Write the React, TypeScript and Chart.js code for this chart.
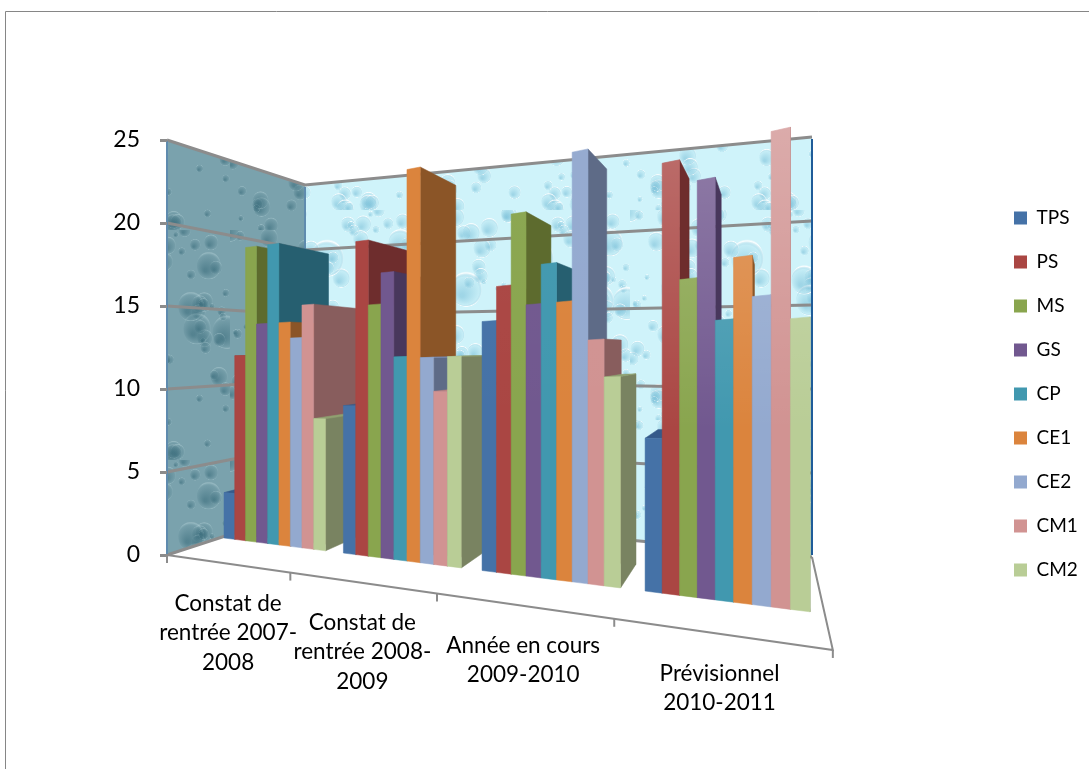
import React, { useEffect, useRef } from "react";
import { Chart, registerables } from "chart.js";

Chart.register(...registerables);

const categories = [
  ["Constat de", "rentrée 2007-", "2008"],
  ["Constat de", "rentrée 2008-", "2009"],
  ["Année en cours", "2009-2010"],
  ["Prévisionnel", "2010-2011"],
];
const TPS = [3, 8.8, 13.3, 7.2];
const PS = [12, 18.5, 15.1, 20];
const MS = [19, 14.7, 18.8, 14.5];
const GS = [14, 16.5, 14, 18.9];
const CP = [19, 11.6, 16, 12.5];
const CE1 = [14, 22.2, 14, 15.2];
const CE2 = [13, 11.5, 21.4, 13.4];
const CM1 = [15, 9.6, 12, 20.4];
const CM2 = [8, 11.5, 10.15, 12.3];

const seriesNames = ["TPS", "PS", "MS", "GS", "CP", "CE1", "CE2", "CM1", "CM2"];
const seriesValues = [TPS, PS, MS, GS, CP, CE1, CE2, CM1, CM2];
const frontColors = ["#4572A7", "#AA4643", "#89A54E", "#71588F", "#4198AF", "#DB843D", "#93A9CF", "#D19392", "#B9CD96"];
const sideColors = ["#2A4970", "#6E2D2D", "#5D6B2E", "#48375C", "#265F70", "#8B5527", "#5E6B87", "#885D5D", "#798361"];
const topColors = ["#355A8A", "#8C3A38", "#75903F", "#5E4A78", "#337F94", "#E0A070", "#8095BC", "#B88080", "#8FA070"];
const groupSheen = [0, 0, 0.03, 0.22];

const FONT = "Lato, 'Open Sans', sans-serif";
const GRID = "#8C8C8C";

// Perspective of the plane the bars stand on
const VP = { x: 775, y: 350 };
const DEPTH = 0.1;
const planeX = (u: number) => (380 * u + 216.3) / (1 - 0.277 * u);
const planeBase = (x: number) => 538 + 0.126 * (x - 224);
const planeUnit = (u: number) => 15.05 / (1 - 0.379 * u);
const project = (u: number, val: number, d = 0) => {
  const x = planeX(u);
  const y = planeBase(x) - val * planeUnit(u);
  return { x: x + (VP.x - x) * d, y: y + (VP.y - y) * d };
};
const frontX = (u: number) => (401 * u + 167) / (1 - 0.318 * u);
const frontY = (x: number) => 555 + 0.1426 * (x - 167);

function quad(ctx: CanvasRenderingContext2D, pts: { x: number; y: number }[], fill: any) {
  ctx.beginPath();
  pts.forEach((p, i) => (i ? ctx.lineTo(p.x, p.y) : ctx.moveTo(p.x, p.y)));
  ctx.closePath();
  ctx.fillStyle = fill;
  ctx.fill();
  if (typeof fill === "string") {
    ctx.strokeStyle = fill;
    ctx.lineWidth = 0.5;
    ctx.stroke();
  }
}

// Decorative wall texture: water droplets on a fixed, hand-tuned scatter.
function dropletTexture(base: string, dark: string, light: string, size: number) {
  const c = document.createElement("canvas");
  c.width = size;
  c.height = size;
  const g = c.getContext("2d") as CanvasRenderingContext2D;
  g.fillStyle = base;
  g.fillRect(0, 0, size, size);
  const count = 110;
  for (let i = 0; i < count; i++) {
    const x = ((i * 0.618034 + i * i * 0.0071) % 1) * size;
    const y = ((i * 0.31 + i * i * 0.0137) % 1) * size;
    const r = 3 + ((i * 7) % 8) + (i % 17 === 0 ? 9 : 0);
    const grad = g.createRadialGradient(x - r * 0.25, y + r * 0.35, r * 0.1, x, y, r);
    grad.addColorStop(0, dark);
    grad.addColorStop(0.75, dark.replace(/[\d.]+\)$/, "0.12)"));
    grad.addColorStop(0.92, light);
    grad.addColorStop(1, "rgba(255,255,255,0)");
    g.fillStyle = grad;
    g.beginPath();
    g.ellipse(x, y, r * 0.85, r, 0, 0, Math.PI * 2);
    g.fill();
  }
  return c;
}

const chart3d = {
  id: "chart3d",
  afterLayout(chart: any) {
    const lg = chart.legend;
    lg.left = 989;
    lg.right = 1089;
    lg.top = 183.5;
    lg.bottom = 769;
  },
  beforeDraw(chart: any) {
    const ctx: CanvasRenderingContext2D = chart.ctx;
    const y = chart.scales.y;
    ctx.save();
    ctx.fillStyle = "#fff";
    ctx.fillRect(0, 0, chart.width, chart.height);
    // outer frame
    ctx.strokeStyle = "#868686";
    ctx.lineWidth = 1;
    ctx.beginPath();
    ctx.moveTo(5.5, 769);
    ctx.lineTo(5.5, 11.5);
    ctx.lineTo(1089, 11.5);
    ctx.stroke();

    const A = (f: number) => ({ x: 167, y: 140 + 415 * f });
    const B = (f: number) => ({ x: 305, y: 185 + 325 * f });
    const C = (f: number) => ({ x: 812, y: 137 + 420 * f });

    const leftTex = ctx.createPattern(dropletTexture("#7AA2AD", "rgba(60,110,125,0.6)", "rgba(190,220,225,0.35)", 230), "repeat");
    const backTex = ctx.createPattern(dropletTexture("#CFF3FA", "rgba(120,190,215,0.55)", "rgba(255,255,255,0.9)", 210), "repeat");
    quad(ctx, [A(0), B(0), B(1), A(1)], leftTex);
    quad(ctx, [B(0), C(0), C(1), B(1)], backTex);

    // gridlines on the walls, from the value scale
    ctx.strokeStyle = GRID;
    ctx.lineWidth = 3;
    y.ticks.forEach((t: any) => {
      const f = (y.getPixelForValue(t.value) - y.top) / (y.bottom - y.top);
      ctx.beginPath();
      const a = A(f), b = B(f), c = C(f);
      ctx.moveTo(a.x, a.y);
      ctx.lineTo(b.x, b.y);
      ctx.lineTo(c.x, c.y);
      ctx.stroke();
    });
    // wall edges
    ctx.lineWidth = 2;
    ctx.strokeStyle = "#5F8BAE";
    ctx.beginPath();
    ctx.moveTo(167, 141);
    ctx.lineTo(167, 554);
    ctx.moveTo(305, 187);
    ctx.lineTo(305, 508);
    ctx.stroke();
    ctx.strokeStyle = "#1F5C99";
    ctx.beginPath();
    ctx.moveTo(812, 139);
    ctx.lineTo(812, 555);
    ctx.stroke();

    // floor edges and category ticks
    ctx.strokeStyle = GRID;
    ctx.lineWidth = 2;
    ctx.beginPath();
    ctx.moveTo(167, 555);
    ctx.lineTo(frontX(1), frontY(frontX(1)));
    ctx.lineTo(812, 557);
    ctx.stroke();
    const n = chart.data.labels.length;
    for (let i = 0; i <= n; i++) {
      const x = frontX(i / n);
      const fy = frontY(x);
      ctx.beginPath();
      ctx.moveTo(x, fy);
      ctx.lineTo(x, fy + 8);
      ctx.stroke();
    }

    // category labels
    ctx.fillStyle = "#000";
    ctx.font = `22.5px ${FONT}`;
    ctx.textAlign = "center";
    ctx.textBaseline = "middle";
    chart.data.labels.forEach((lines: string[], i: number) => {
      const x = frontX((i + 0.5) / n);
      const fy = frontY(x);
      lines.forEach((s, k) => ctx.fillText(s, x + 2, fy + 40 + k * 29.5));
    });
    ctx.restore();
  },
  beforeDatasetsDraw(chart: any) {
    const ctx: CanvasRenderingContext2D = chart.ctx;
    const area = chart.chartArea;
    const yScale = chart.scales.y;
    const n = chart.data.labels.length;
    ctx.save();
    for (let g = 0; g < n; g++) {
      chart.data.datasets.forEach((ds: any, s: number) => {
        const el = chart.getDatasetMeta(s).data[g];
        const w = area.right - area.left;
        const u0 = (el.x - el.width / 2 - area.left) / w;
        const u1 = (el.x + el.width / 2 - area.left) / w;
        const val = yScale.getValueForPixel(el.y);
        const fb0 = project(u0, 0), fb1 = project(u1, 0);
        const ft0 = project(u0, val), ft1 = project(u1, val);
        const bb1 = project(u1, 0, DEPTH), bt1 = project(u1, val, DEPTH), bt0 = project(u0, val, DEPTH);
        quad(ctx, [ft1, bt1, bb1, fb1], sideColors[s]);
        if (ft0.y > VP.y) quad(ctx, [ft0, ft1, bt1, bt0], topColors[s]);
        quad(ctx, [ft0, ft1, fb1, fb0], ds.backgroundColor);
        if (groupSheen[g] > 0) {
          const sheen = ctx.createLinearGradient(0, 130, 0, 430);
          sheen.addColorStop(0, `rgba(255,255,255,${groupSheen[g]})`);
          sheen.addColorStop(1, "rgba(255,255,255,0)");
          quad(ctx, [ft0, ft1, fb1, fb0], sheen);
        }
      });
    }
    ctx.restore();
    return false;
  },
};

export default function App() {
  const ref = useRef<HTMLCanvasElement>(null);
  useEffect(() => {
    const chart = new Chart(ref.current as HTMLCanvasElement, {
      type: "bar",
      data: {
        labels: categories as any,
        datasets: seriesNames.map((name, i) => ({
          label: name,
          data: seriesValues[i],
          backgroundColor: frontColors[i],
          barPercentage: 1,
          categoryPercentage: 0.86,
        })),
      },
      options: {
        animation: false,
        responsive: false,
        devicePixelRatio: 1,
        layout: { padding: { top: 140, left: 0, right: 0, bottom: 214 } },
        plugins: {
          tooltip: { enabled: false },
          title: { display: false },
          legend: {
            position: "right",
            align: "start",
            labels: {
              boxWidth: 13,
              boxHeight: 13,
              padding: 25,
              color: "#000",
              font: { family: FONT, size: 19 },
            },
          },
        },
        scales: {
          x: { display: false },
          y: {
            min: 0,
            max: 25,
            afterFit: (a: any) => {
              a.width = 167;
            },
            border: { display: false },
            grid: { drawOnChartArea: false, drawTicks: true, tickLength: 7, color: GRID, lineWidth: 3 },
            ticks: { stepSize: 5, color: "#000", padding: 20, font: { family: FONT, size: 23 } },
          },
        },
      },
      plugins: [chart3d as any],
    });
    return () => chart.destroy();
  }, []);
  return (
    <canvas
      ref={ref}
      width={1089}
      height={769}
      style={{ position: "fixed", left: 0, top: 0, display: "block" }}
    />
  );
}
